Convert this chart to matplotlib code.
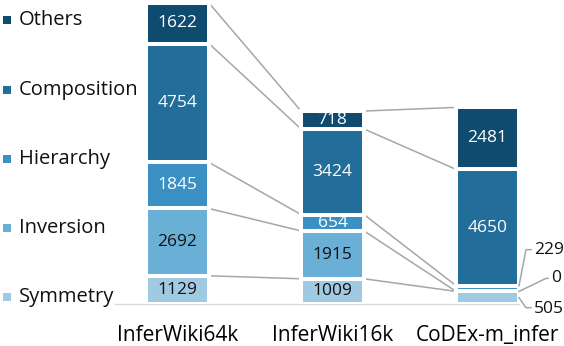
import matplotlib
matplotlib.use('Agg')
import matplotlib.pyplot as plt
from matplotlib.lines import Line2D
from matplotlib.patches import Rectangle
import numpy as np

datasets = ['InferWiki64k', 'InferWiki16k', 'CoDEx-m_infer']
categories = ['Symmetry', 'Inversion', 'Hierarchy', 'Composition', 'Others']
symmetry = [1129, 1009, 505]
inversion = [2692, 1915, 0]
hierarchy = [1845, 654, 229]
composition = [4754, 3424, 4650]
others = [1622, 718, 2481]

colors = ['#a0c9e2', '#6aafd6', '#3a8fc3', '#236d9b', '#0f4a6f']
text_colors = ['#111111', '#111111', 'white', 'white', 'white']

plt.rcParams['font.family'] = ['Open Sans', 'DejaVu Sans']
W, H = 564, 346
fig = plt.figure(figsize=(W / 100, H / 100), dpi=100)
ax_left, ax_right, ax_top, ax_bottom = 115, 519, 3, 304
ax = fig.add_axes([ax_left / W, 1 - ax_bottom / H, (ax_right - ax_left) / W, (ax_bottom - ax_top) / H])

x = np.arange(len(datasets))
series = [symmetry, inversion, hierarchy, composition, others]
totals = np.sum(series, axis=0)
ax.set_ylim(0, totals.max())
ax.set_xlim(-0.403, 2.203)
width = 0.406

bottoms = np.zeros(len(datasets))
seg_bottoms, seg_tops = [], []
for vals, c, tc in zip(series, colors, text_colors):
    vals = np.array(vals, dtype=float)
    ax.bar(x, vals, width, bottom=bottoms, color=c, edgecolor='white', linewidth=2.9, zorder=3)
    for i in range(len(datasets)):
        if vals[i] > 600:
            ax.text(x[i], bottoms[i] + vals[i] / 2, f'{int(vals[i])}', ha='center', va='center',
                    color=tc, fontsize=12.5, zorder=4)
    seg_bottoms.append(bottoms.copy())
    bottoms = bottoms + vals
    seg_tops.append(bottoms.copy())

# connecting lines between segment tops
for k in range(len(series)):
    for i in range(len(datasets) - 1):
        ax.plot([x[i] + width / 2, x[i + 1] - width / 2], [seg_tops[k][i], seg_tops[k][i + 1]],
                color='#a6a6a6', lw=1.1, zorder=2, solid_capstyle='butt')

# outside labels for small CoDEx segments
fig.canvas.draw()
j = 2
anchor_frac = [0.5, 0.0, 1.0]
leader_pts = [[(7, -10), (12, -10)], [(27, 13), (29, 13)], [(7, 36), (12, 36)]]
text_off = [(15, -11), (32, 13), (15, 36)]
for k in range(3):
    val = series[k][j]
    yv = seg_bottoms[k][j] + anchor_frac[k] * val
    sx, sy = ax.transData.transform((x[j] + width / 2, yv))
    xs = [sx] + [sx + p[0] for p in leader_pts[k]]
    ys = [sy] + [sy + p[1] for p in leader_pts[k]]
    fig.add_artist(Line2D(xs, ys, transform=None, color='#a6a6a6', lw=1.1))
    fig.text((sx + text_off[k][0]) / W, (sy + text_off[k][1]) / H, f'{val}', ha='left', va='center',
             fontsize=12.5, color='#111111')

# axis styling
for s in ['top', 'right', 'left']:
    ax.spines[s].set_visible(False)
ax.spines['bottom'].set_color('#d9d9d9')
ax.spines['bottom'].set_linewidth(1.0)
ax.set_yticks([])
ax.set_xticks(x, datasets, fontsize=15)
ax.tick_params(axis='x', length=0, pad=15)

# legend on the left
legend_y = [297, 228, 159, 90, 20]
for cat, c, yp in zip(categories, colors, legend_y):
    fig.add_artist(Rectangle((3 / W, 1 - (yp + 4) / H), 8 / W, 8 / H, transform=fig.transFigure,
                             facecolor=c, edgecolor='none'))
    fig.text(19 / W, 1 - yp / H, cat, ha='left', va='center', fontsize=14.5, color='#111111')

fig.savefig('out.png', dpi=100)
